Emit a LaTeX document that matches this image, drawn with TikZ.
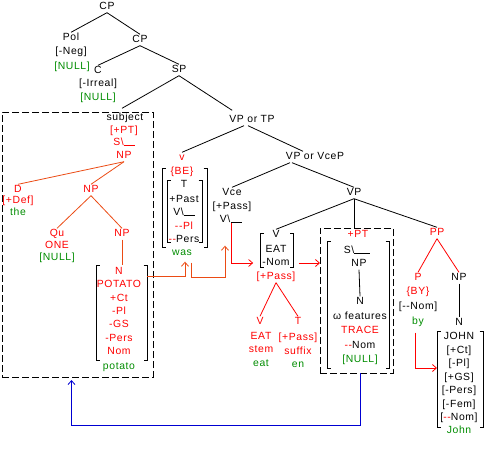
\documentclass[tikz,border=0pt]{standalone}
\usepackage{fontspec}
\setmainfont{Liberation Sans}[LetterSpace=6]
\usetikzlibrary{arrows.meta}
\definecolor{tred}{RGB}{255,0,0}
\definecolor{tor}{RGB}{235,75,20}
\definecolor{tgreen}{RGB}{0,140,0}
\definecolor{tblue}{RGB}{0,0,210}
\newcommand\featbrackets[1]{%
  \draw[brk] ([xshift=3.5pt]#1.north west) -- (#1.north west) -- (#1.south west) -- ([xshift=3.5pt]#1.south west);
  \draw[brk] ([xshift=-3.5pt]#1.north east) -- (#1.north east) -- (#1.south east) -- ([xshift=-3.5pt]#1.south east);}
\begin{document}
\begin{tikzpicture}[x=1pt,y=-1pt,
  lab/.style={inner sep=1pt, text height=7pt, text depth=2pt, font=\fontsize{10.4}{12}\selectfont},
  rl/.style={lab, text=tred},
  gl/.style={lab, text=tgreen},
  tl/.style={line width=0.8pt},
  ol/.style={line width=0.8pt, draw=tor},
  rline/.style={line width=0.8pt, draw=tred},
  dbox/.style={draw, dash pattern=on 7pt off 3pt, line width=0.8pt, inner sep=0pt, outer sep=0pt},
  fbox/.style={inner sep=0pt, outer sep=0pt},
  brk/.style={line width=0.8pt},
  tip/.style={-{Straight Barb[length=4pt,width=7pt]}},
  oarr/.style={draw=tor, line width=0.8pt, tip},
  rarr/.style={draw=tred, line width=0.8pt, tip},
  barr/.style={draw=tblue, line width=0.8pt, tip}]
\useasboundingbox (0,0) rectangle (484,450);

% top of tree
\node[lab] (cp) at (107,7) {CP};
\node[lab] (pol) at (71,38) {Pol};
\node[lab] (neg) at (71,52) {[-Neg]};
\node[gl] (polnull) at (72,67) {[NULL]};
\node[lab] (cp2) at (140,40) {CP};
\node[lab] (c) at (98,71) {C};
\node[lab] (irreal) at (98,84) {[-Irreal]};
\node[gl] (cnull) at (98,98) {[NULL]};
\node[lab] (sp) at (179,70) {SP};

% subject box
\node[dbox, minimum width=151pt, minimum height=265pt] (box1) at (77.5,244.5) {};
\node[lab] (subj) at (125,118) {subject};
\node[rl] (subjpt) at (124,131) {[+PT]};
\node[rl] (subjs) at (124,143) {S\textbackslash\rule{11pt}{0.8pt}};
\node[rl] (np1) at (124,156) {NP};
\node[rl] (d) at (18,190) {D};
\node[rl] (def) at (18,201) {[+Def]};
\node[gl] (the) at (18,213) {the};
\node[rl] (np2) at (91,190) {NP};
\node[rl] (qu) at (57,234) {Qu};
\node[rl] (one) at (57,246) {ONE};
\node[gl] (qnull) at (57,258) {[NULL]};
\node[rl] (np3) at (122,234) {NP};
\node[fbox, minimum width=51pt, minimum height=95pt] (pbox) at (121.5,312.5) {};
\foreach \t [count=\i] in {N,POTATO,+Ct,-Pl,-GS,-Pers,Nom}
  \node[rl] (pot\i) at (119,{272+13.33*(\i-1)}) {\t};
\node[gl] (potato) at (119,367) {potato};
\featbrackets{pbox}

% v / BE
\node[lab] (vptp) at (252,120) {VP or TP};
\node[rl] (v) at (182,158) {v};
\node[fbox, minimum width=45pt, minimum height=79pt] (beo) at (184.5,207.5) {};
\node[rl] (be) at (182,172) {\{BE\}};
\node[fbox, minimum width=35pt, minimum height=62pt] (bei) at (184.5,211) {};
\node[lab] (bt) at (184,185) {T};
\node[lab] (bpast) at (184,200) {+Past};
\node[lab] (bv) at (184,213) {V\textbackslash\rule{11pt}{0.8pt}};
\node[lab] (bpl) at (184,227) {\textcolor{tred}{-{}-Pl}};
\node[lab] (bpers) at (184,240) {\textcolor{tred}{-{}-}Pers};
\node[gl] (was) at (182,253) {was};
\featbrackets{beo}
\featbrackets{bei}

% Vce
\node[lab] (vpvcep) at (315,157) {VP or VceP};
\node[lab] (vce) at (232,193) {Vce};
\node[lab] (vpass) at (232,207) {[+Pass]};
\node[lab] (vbs) at (225,220) {V\textbackslash};
\node[lab] (vp3) at (354,193) {VP};

% EAT
\node[fbox, minimum width=33pt, minimum height=34pt] (eatbox) at (277,250) {};
\node[lab] (eatv) at (276,235) {V};
\node[lab] (eat) at (276,250) {EAT};
\node[lab] (eatnom) at (276,263) {-Nom};
\featbrackets{eatbox}
\node[rl] (eatpass) at (276,277) {[+Pass]};
\node[rl] (ev) at (260,322) {V};
\node[rl] (et) at (298,322) {T};
\node[rl] (eeat) at (261,337) {EAT};
\node[rl] (estem) at (261,350) {stem};
\node[gl] (eeat2) at (261,364) {eat};
\node[rl] (epass) at (298,338) {[+Pass]};
\node[rl] (esuf) at (298,352) {suffix};
\node[gl] (een) at (298,365) {en};

% trace box
\node[dbox, minimum width=73pt, minimum height=145pt] (box2) at (356.5,300.5) {};
\node[rl] (tpt) at (358,235) {+PT};
\node[fbox, minimum width=62pt, minimum height=127pt] (tbox) at (358,304.5) {};
\node[lab] (ts) at (357,251) {S\textbackslash\rule{16pt}{0.8pt}};
\node[lab] (tnp) at (359,264) {NP};
\node[lab] (tn) at (360,302) {N};
\node[lab] (tfeat) at (360,317) {ω features};
\node[rl] (trace) at (360,331) {TRACE};
\node[lab] (tnom) at (360,346) {\textcolor{tred}{-{}-}Nom};
\node[gl] (tnull) at (360,360) {[NULL]};
\featbrackets{tbox}

% PP
\node[rl] (pp) at (437,233) {PP};
\node[rl] (p) at (418,278) {P};
\node[lab] (pnp) at (459,278) {NP};
\node[rl] (by1) at (418,292) {\{BY\}};
\node[lab] (pnom) at (418,307) {[-{}-Nom]};
\node[gl] (by) at (418,322) {by};
\node[lab] (jn) at (459,323) {N};
\node[fbox, minimum width=46pt, minimum height=96pt] (jbox) at (460,379) {};
\node[lab] (j1) at (459,337) {JOHN};
\node[lab] (j2) at (459,350.5) {[+Ct]};
\node[lab] (j3) at (459,364) {[-Pl]};
\node[lab] (j4) at (459,377.5) {[+GS]};
\node[lab] (j5) at (459,391) {[-Pers]};
\node[lab] (j6) at (459,404.5) {[-Fem]};
\node[lab] (j7) at (459,418) {[\textcolor{tred}{-{}-}Nom]};
\node[gl] (john) at (459,431) {John};
\featbrackets{jbox}

% black tree lines
\draw[tl] (cp.south) -- (pol.north);
\draw[tl] (cp.south) -- (cp2.north);
\draw[tl] (cp2.south) -- (c.north);
\draw[tl] (cp2.south) -- (sp.north);
\draw[tl] (sp.south) -- ([xshift=-3pt,yshift=4pt]subj.north);
\draw[tl] (sp.south) -- ([xshift=4pt,yshift=4pt]vptp.north west);
\draw[tl] ([xshift=-8pt]vptp.south) -- (v.north);
\draw[tl] ([xshift=-4pt]vptp.south) -- ([xshift=-12pt]vpvcep.north);
\draw[tl] ([xshift=-25pt]vpvcep.south) -- (vce.north);
\draw[tl] ([xshift=-23pt]vpvcep.south) -- (vp3.north);
\draw[tl] (vp3.south) -- (eatv.north);
\draw[tl] (vp3.south) -- (vp3.south |- box2.north);
\draw[tl] (vp3.south) -- (pp.north);
\draw[tl] ([yshift=3pt]vbs.south east) -- ++(11,0);
\draw[tl] (tnp.south) -- (tn.north);
\draw[tl] (pnp.south) -- (jn.north);

% subject subtree lines
\draw[ol] (np1.south) -- (d.north);
\draw[ol] (np1.south) -- (np2.north);
\draw[ol] (np2.south) -- (qu.north);
\draw[ol] (np2.south) -- (np3.north);
\draw[ol] (np3.south) -- (np3.south |- pbox.north);

% red subtree lines
\draw[rline] (eatpass.south) -- (ev.north);
\draw[rline] (eatpass.south) -- (et.north);
\draw[rline] (pp.south) -- (p.north);
\draw[rline] (pp.south) -- (pnp.north);

% arrows
\draw[oarr] ([yshift=-11pt]pbox.north east) -| ([xshift=3pt,yshift=-3pt]was.south);
\draw[oarr] ([xshift=9pt,yshift=-4pt]was.south) -- ++(0,15) -| ([yshift=-20pt]vbs.south);
\draw[rarr] ([yshift=3pt]vbs.south east) |- ([xshift=-8pt]eatnom.west);
\draw[rarr] ([xshift=8pt]eatnom.east) -- (eatnom.east -| box2.west);
\draw[rarr] ([xshift=-3pt,yshift=-5pt]by.south) |- ([yshift=11pt]jbox.west);
\draw[barr] ([xshift=4pt]box2.south) -- ++(0,52) -| ([xshift=-6pt,yshift=-3pt]box1.south);
\end{tikzpicture}
\end{document}
